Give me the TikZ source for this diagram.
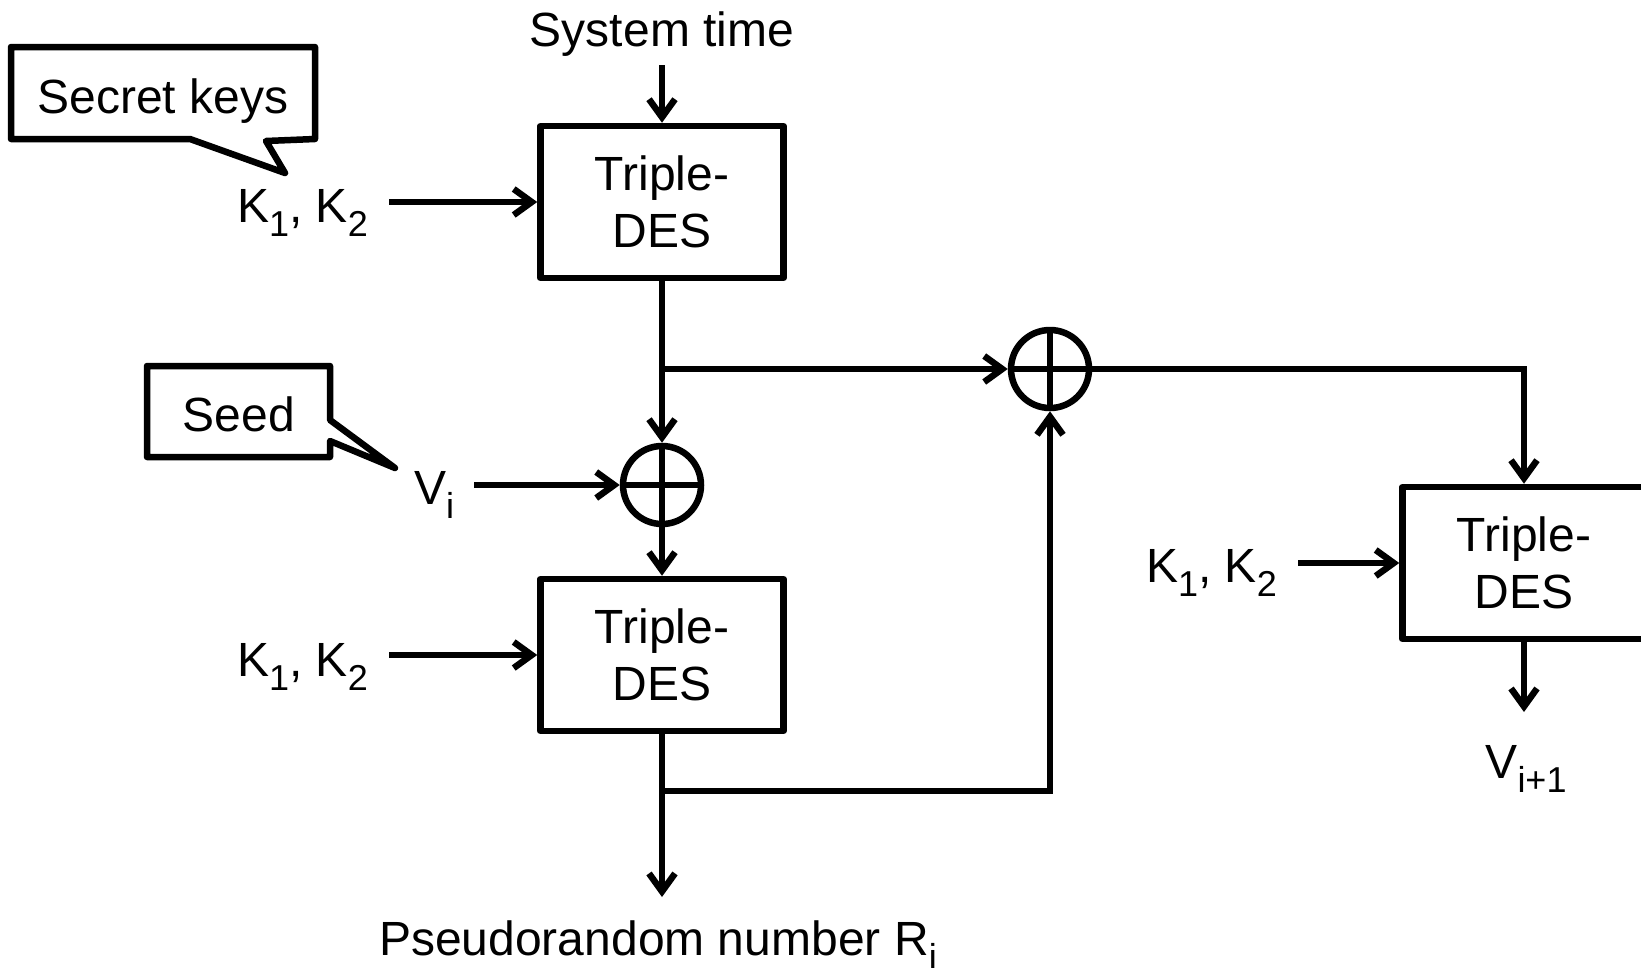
\documentclass[tikz,border=0pt]{standalone}
\usepackage{fontspec}
\setmainfont{Liberation Sans}
\usetikzlibrary{arrows.meta}
\newcommand\sbs[1]{\raisebox{-14pt}{\fontsize{36}{36}\selectfont #1}}
\begin{document}
\begin{tikzpicture}[x=1pt,y=-1pt,
  lw/.style={line width=6.5pt},
  every node/.style={font=\fontsize{48}{57}\selectfont, inner sep=0pt},
  blk/.style={draw, lw, minimum width=243pt, minimum height=152pt, align=center, line join=round},
  xor/.style={draw, circle, lw, minimum size=78pt},
  arr/.style={lw, -{Straight Barb[length=18pt,width=26pt]}},
  callout/.style={draw, lw, line join=round, fill=white}]
\useasboundingbox (0,0) rectangle (1641,967);
% callouts
\draw[callout] (11,47) -- (315,47) -- (315,139) -- (266,141) -- (285,173) -- (190,139) -- (11,139) -- cycle;
\node[anchor=base] (sk) at (163,113) {Secret keys};
\draw[callout] (147,366) -- (330,366) -- (330,420) -- (395,468) -- (330,441) -- (330,457) -- (147,457) -- cycle;
\node[anchor=base] (sd) at (239,431) {Seed};
% nodes
\node[anchor=base] (st) at (662,46) {System time};
\node[blk] (box1) at (662,202) {Triple-\\DES};
\node[anchor=base east] (k1) at (368,222) {K\sbs{1}, K\sbs{2}};
\node[xor] (x1) at (662,485) {};
\node[xor] (x2) at (1050,369) {};
\node[anchor=base west] (vi) at (414,504) {V\sbs{i}};
\node[blk] (box2) at (662,655) {Triple-\\DES};
\node[anchor=base east] (k2) at (368,676) {K\sbs{1}, K\sbs{2}};
\node[anchor=base] (pr) at (658,955) {Pseudorandom number R\sbs{i}};
\node[blk] (box3) at (1524,563) {Triple-\\DES};
\node[anchor=base east] (k3) at (1277,582) {K\sbs{1}, K\sbs{2}};
\node[anchor=base] (vn) at (1526,778) {V\sbs{i+1}};
\coordinate (b1) at (box1.south |- x2.west);
\coordinate (b2) at (662,791);
\coordinate (out) at (662,897);
\coordinate (v3) at (1524,712);
% xor crosses
\foreach \n in {x1,x2}{
  \draw[lw] (\n.north) -- (\n.south) (\n.west) -- (\n.east);
}
% connectors
\draw[arr] ([yshift=-9pt]st.south) -- (box1.north);
\draw[arr, shorten <=21pt] (k1.east |- box1.west) -- (box1.west);
\draw[arr] (box1.south) -- (x1.north);
\draw[arr] (b1) -- (x2.west);
\draw[arr, shorten <=20pt] (vi.east |- x1.west) -- (x1.west);
\draw[arr] (x1.south) -- (box2.north);
\draw[arr, shorten <=21pt] (k2.east |- box2.west) -- (box2.west);
\draw[arr] (box2.south) -- (out);
\draw[arr] (b2) -| (x2.south);
\draw[arr] (x2.east) -| (box3.north);
\draw[arr, shorten <=21pt] (k3.east |- box3.west) -- (box3.west);
\draw[arr] (box3.south) -- (v3);
\end{tikzpicture}
\end{document}
